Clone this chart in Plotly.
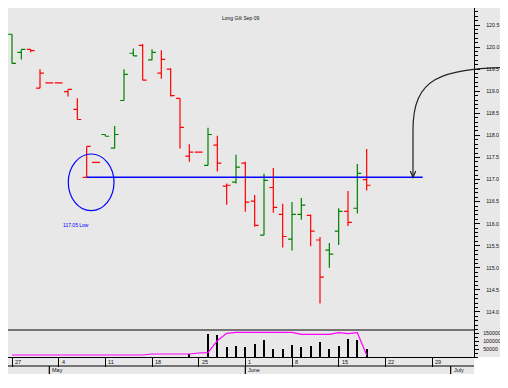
import pandas as pd
import plotly.graph_objects as go

# ---------------- data ----------------
title = "Long Gilt Sep 09"
dates = ["2009-04-27", "2009-04-28", "2009-04-29", "2009-04-30", "2009-05-01",
         "2009-05-04", "2009-05-05", "2009-05-06", "2009-05-07", "2009-05-08",
         "2009-05-11", "2009-05-12", "2009-05-13", "2009-05-14", "2009-05-15",
         "2009-05-18", "2009-05-19", "2009-05-20", "2009-05-21", "2009-05-22",
         "2009-05-25", "2009-05-26", "2009-05-27", "2009-05-28", "2009-05-29",
         "2009-06-01", "2009-06-02", "2009-06-03", "2009-06-04", "2009-06-05",
         "2009-06-08", "2009-06-09", "2009-06-10", "2009-06-11", "2009-06-12",
         "2009-06-15", "2009-06-16", "2009-06-17", "2009-06-18"]
open_ = [120.29, 119.88, 119.95, 119.07, 119.19, 119.19, 118.99, 118.59, 117.05, 117.39,
         118.02, 117.71, 118.79, 119.86, 120.04, 119.71, 119.41, 119.50, 118.84, 117.53,
         117.62, 117.32, 117.78, 116.85, 116.94, 117.37, 116.51, 115.74, 116.82, 116.21,
         115.65, 116.21, 116.19, 115.63, 115.40, 115.83, 116.28, 116.35, 117.00]
high = [120.29, 119.95, 119.95, 119.50, 119.19, 119.19, 119.04, 118.84, 117.75, 117.39,
        118.02, 118.21, 119.50, 119.97, 120.07, 119.95, 119.93, 119.52, 118.84, 117.80,
        117.62, 118.17, 117.99, 116.91, 117.56, 117.40, 116.65, 117.13, 117.26, 116.45,
        116.49, 116.58, 116.21, 115.70, 115.56, 116.35, 116.74, 117.35, 117.69]
low = [119.63, 119.72, 119.88, 119.07, 119.19, 119.19, 118.88, 118.36, 117.05, 117.39,
       117.98, 117.71, 118.79, 119.80, 119.25, 119.70, 119.28, 118.88, 117.70, 117.40,
       117.62, 117.32, 117.18, 116.43, 116.91, 116.27, 115.93, 115.74, 116.25, 115.46,
       115.39, 116.09, 115.49, 114.19, 115.00, 115.52, 115.95, 116.23, 116.75]
close = [119.63, 119.95, 119.92, 119.41, 119.19, 119.19, 119.04, 118.36, 117.75, 117.39,
         117.98, 118.02, 119.38, 119.80, 119.25, 119.88, 119.72, 118.90, 118.18, 117.62,
         117.62, 118.02, 117.37, 116.87, 117.28, 116.49, 115.96, 116.98, 116.37, 115.71,
         116.21, 116.42, 115.83, 114.79, 115.31, 116.28, 116.03, 117.14, 116.87]
volume = [0] * 19 + [21000, 0, 150000, 141000, 62000, 70000,
                     62000, 83000, 109000, 51000, 51000,
                     77000, 64000, 72000, 96000, 51000,
                     70000, 115000, 109000, 51000]
open_interest = [12800] * 15 + [19200] * 5 + [25600, 28000, 104500, 152000, 158000] + \
    [158000] * 6 + [145500] * 4 + [155800, 149400, 155800, 12800]

week_tick_dates = ["2009-04-27", "2009-05-04", "2009-05-11", "2009-05-18", "2009-05-25",
                   "2009-06-01", "2009-06-08", "2009-06-15", "2009-06-22", "2009-06-29"]
week_tick_labels = ["27", "4", "11", "18", "25", "1", "8", "15", "22", "29"]
month_dates = ["2009-05-01", "2009-06-01", "2009-07-01"]
month_labels = ["May", "June", "July"]
low_label = "117.05 Low"

# trading-day axis (weekends removed)
cal = {d.strftime("%Y-%m-%d"): i for i, d in enumerate(pd.bdate_range("2009-04-27", "2009-07-10"))}
xi = [cal[d] for d in dates]
up = [True] + [c > p for p, c in zip(close[:-1], close[1:])]

GREEN, RED, BLUE, MAG = "#008000", "#ff0000", "#0000ff", "#ff00ff"
BG = "#e8e8e8"
FONT = "Liberation Sans, Arial, sans-serif"
# page offset of the figure div (body margin) is 8px
OFF = 8
W, H = 500, 380
L, R, T, B = 0, 34, 0, 31
PW, PH = W - L - R, H - T - B
BOTTOM = OFF + H - B   # page y of plot bottom (357)


def px(x):  # page x -> paper
    return (x - OFF - L) / PW


def py(y):  # page y -> paper
    return (BOTTOM - y) / PH


vol_frac = py(330)

fig = go.Figure()
for flag, col in ((True, GREEN), (False, RED)):
    idx = [i for i, u in enumerate(up) if u == flag]
    fig.add_trace(go.Ohlc(
        x=[xi[i] for i in idx], open=[open_[i] for i in idx], high=[high[i] for i in idx],
        low=[low[i] for i in idx], close=[close[i] for i in idx],
        increasing=dict(line=dict(color=col, width=1.2)),
        decreasing=dict(line=dict(color=col, width=1.2)),
        tickwidth=0.42, showlegend=False, hoverinfo="skip", yaxis="y"))

fig.add_trace(go.Bar(x=xi, y=volume, width=0.1, marker=dict(color="black", line=dict(width=0)),
                     yaxis="y2", showlegend=False, hoverinfo="skip"))
fig.add_trace(go.Scatter(x=xi, y=open_interest, mode="lines", line=dict(color=MAG, width=1.2),
                         yaxis="y2", showlegend=False, hoverinfo="skip"))

tickfont = dict(family=FONT, size=5.3, color="#111")
shapes = [
    dict(type="rect", xref="paper", yref="paper", x0=1, x1=px(501), y0=0, y1=1,
         fillcolor=BG, line=dict(width=0), layer="below"),
    dict(type="rect", xref="paper", yref="paper", x0=0, x1=1, y0=py(374), y1=0,
         fillcolor=BG, line=dict(width=0), layer="below"),
    dict(type="line", xref="paper", yref="paper", x0=0, x1=1, y0=vol_frac, y1=vol_frac,
         line=dict(color="black", width=1.2)),
    dict(type="line", xref="paper", yref="paper", x0=0, x1=1, y0=py(366), y1=py(366),
         line=dict(color="black", width=1.2)),
    dict(type="circle", xref="x", yref="y", x0=6.03, x1=10.93, y0=116.294, y1=117.578,
         line=dict(color=BLUE, width=1.2)),
    dict(type="line", xref="x", yref="y", x0=xi[8], x1=44.0, y0=low[8], y1=low[8],
         line=dict(color=BLUE, width=1.5)),
    dict(type="path", xref="paper", yref="paper",
         path=f"M {px(508)},{py(67.5)} C {px(440)},{py(69)} {px(413)},{py(78)} {px(413)},{py(130)} L {px(413)},{py(177)}",
         line=dict(color="#222222", width=1.2)),
    dict(type="path", xref="paper", yref="paper",
         path=f"M {px(410.3)},{py(171)} L {px(413)},{py(177.5)} L {px(415.7)},{py(171)}",
         line=dict(color="#222222", width=1.2)),
]
for d in month_dates:
    shapes.append(dict(type="line", xref="x", yref="paper", x0=cal[d], x1=cal[d],
                       y0=py(366), y1=py(374), line=dict(color="black", width=1.2)))

annotations = [
    dict(text=title, xref="paper", yref="paper", x=px(240.5), y=py(13), showarrow=False,
         font=dict(family=FONT, size=5, color="#111")),
    dict(text=low_label, xref="x", yref="y", x=6.9, y=115.97, showarrow=False,
         font=dict(family=FONT, size=5, color=BLUE)),
]
for d, lab in zip(week_tick_dates, week_tick_labels):
    annotations.append(dict(text=lab, xref="x", yref="paper", x=cal[d], y=py(361.7),
                            xanchor="left", yanchor="middle", xshift=1, showarrow=False,
                            font=dict(family=FONT, size=5.5, color="#111")))
for d, lab in zip(month_dates, month_labels):
    annotations.append(dict(text=lab, xref="x", yref="paper", x=cal[d], y=py(370.3),
                            xanchor="left", yanchor="middle", xshift=1, showarrow=False,
                            font=dict(family=FONT, size=5.5, color="#111")))

fig.update_layout(
    width=W, height=H, margin=dict(l=L, r=R, t=T, b=B, pad=0),
    paper_bgcolor="white", plot_bgcolor=BG,
    xaxis=dict(range=[-0.4286, 49.5], anchor="y2", showgrid=False, zeroline=False,
               showline=True, linecolor="black", linewidth=1.2,
               tickmode="array", tickvals=[cal[d] for d in week_tick_dates], ticktext=[""] * 10,
               ticks="outside", ticklen=9, tickcolor="black", tickwidth=1.2,
               rangeslider=dict(visible=False), fixedrange=True),
    yaxis=dict(domain=[vol_frac, 1], range=[113.592, 120.885], side="right", anchor="x",
               showgrid=False, zeroline=False, showline=True, linecolor="black", linewidth=1.2,
               dtick=0.5, tick0=114, tickformat=".1f", ticks="outside", ticklen=5,
               tickcolor="black", tickwidth=1, tickfont=tickfont, ticklabelstandoff=5,
               minor=dict(dtick=0.1, ticks="outside", ticklen=2.5, tickcolor="black", tickwidth=1)),
    yaxis2=dict(domain=[0, vol_frac], range=[0, 173077], side="right", anchor="x",
                showgrid=False, zeroline=False, showline=True, linecolor="black", linewidth=1.2,
                tickvals=[50000, 100000, 150000], tickformat="d", ticks="outside", ticklen=4,
                tickcolor="black", tickwidth=1, tickfont=tickfont, ticklabelstandoff=3,
                minor=dict(dtick=25000, ticks="outside", ticklen=2.5, tickcolor="black", tickwidth=1)),
    shapes=shapes, annotations=annotations, bargap=0,
)
fig.write_html("out.html")
